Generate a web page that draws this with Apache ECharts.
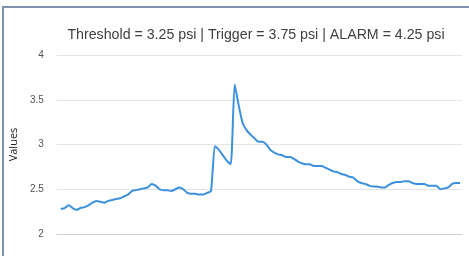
<!DOCTYPE html>
<html>
<head>
<meta charset="utf-8">
<script src="https://cdn.jsdelivr.net/npm/echarts@6/dist/echarts.min.js"></script>
<style>
  html, body { margin: 0; padding: 0; background: #fff; }
  #chart { position: absolute; left: 0; top: 0; width: 469px; height: 256px; }
  /* panel frame seen at the top and left edge */
  #frame {
    position: absolute; left: 2px; top: 6px; right: 0; bottom: 0;
    border-left: 2px solid #7c94ae; border-top: 2px solid #7c94ae;
    pointer-events: none;
  }
</style>
</head>
<body>
<div id="chart"></div>
<div id="frame"></div>
<script>
// chart text
const titleText = 'Threshold = 3.25 psi | Trigger = 3.75 psi | ALARM = 4.25 psi';
const yName = 'Values';
const yTicks = [2, 2.5, 3, 3.5, 4];

// pressure readings, one per sample
const values = [
  2.28, 2.29, 2.32, 2.29, 2.27, 2.29, 2.30, 2.32, 2.35, 2.37,
  2.36, 2.35, 2.37, 2.38, 2.39, 2.40, 2.42, 2.44, 2.48, 2.49,
  2.50, 2.51, 2.52, 2.56, 2.54, 2.50, 2.49, 2.49, 2.48, 2.50,
  2.52, 2.50, 2.46, 2.45, 2.45, 2.44, 2.44, 2.46, 2.48, 2.98,
  2.94, 2.88, 2.82, 2.78, 3.67, 3.44, 3.24, 3.16, 3.11, 3.07,
  3.03, 3.03, 3.00, 2.94, 2.91, 2.89, 2.88, 2.86, 2.86, 2.84,
  2.81, 2.79, 2.78, 2.78, 2.76, 2.76, 2.76, 2.74, 2.72, 2.70,
  2.69, 2.67, 2.66, 2.64, 2.63, 2.59, 2.57, 2.56, 2.54, 2.53,
  2.53, 2.52, 2.52, 2.55, 2.57, 2.58, 2.58, 2.59, 2.59, 2.57,
  2.56, 2.56, 2.56, 2.54, 2.54, 2.54, 2.50, 2.51, 2.52, 2.56,
  2.57, 2.57
];

const myChart = echarts.init(document.getElementById('chart'));

const option = {
  backgroundColor: '#fff',
  animation: false,
  title: {
    text: titleText,
    left: 251,
    textAlign: 'center',
    top: 23,
    textStyle: {
      color: '#404040',
      fontSize: 14.2,
      fontWeight: 'normal',
      fontFamily: 'Liberation Sans, Arial, sans-serif'
    }
  },
  grid: { left: 52, right: 7, top: 55, bottom: 22 },
  xAxis: {
    type: 'value',
    min: -1,
    max: 101.5,
    axisLine: { show: true, lineStyle: { color: '#d0d0d0', width: 1 } },
    axisTick: { show: false },
    axisLabel: { show: false },
    splitLine: { show: false }
  },
  yAxis: {
    type: 'value',
    min: yTicks[0],
    max: yTicks[yTicks.length - 1],
    interval: 0.5,
    name: yName,
    nameLocation: 'middle',
    nameGap: 31,
    nameTextStyle: { color: '#222', fontSize: 11, fontFamily: 'Open Sans, sans-serif' },
    axisLine: { show: false },
    axisTick: { show: false },
    axisLabel: { color: '#555', fontSize: 10, margin: 13, fontFamily: 'Liberation Sans, Arial, sans-serif' },
    splitLine: { lineStyle: { color: '#e4e4e4', width: 1 } }
  },
  series: [
    {
      type: 'line',
      data: values.map((v, i) => [i, v]),
      showSymbol: false,
      smooth: 0.2,
      lineStyle: { color: '#3c91dc', width: 2 }
    }
  ]
};

myChart.setOption(option);
</script>
</body>
</html>
